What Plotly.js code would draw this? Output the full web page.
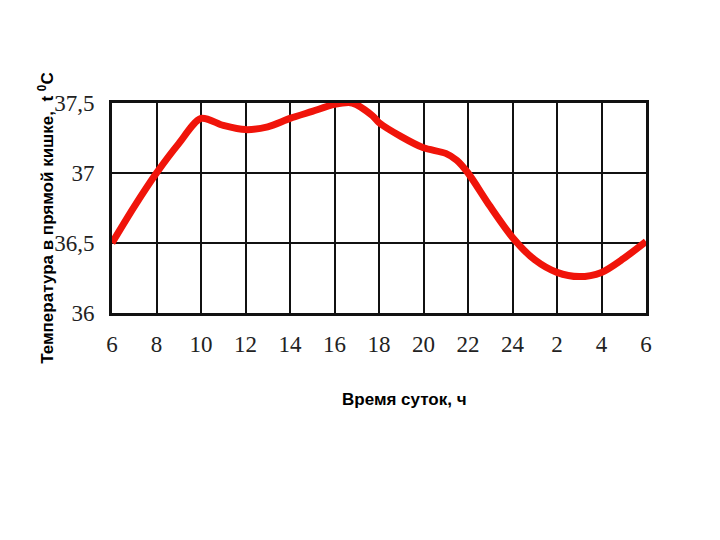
<!DOCTYPE html>
<html><head><meta charset="utf-8">
<script src="https://cdn.plot.ly/plotly-3.0.1.min.js"></script>
<style>html,body{margin:0;padding:0;background:#fff}</style>
</head><body><div id="chart" style="width:720px;height:540px"></div>
<script>
// Hours from 6:00 (6..30, where 24+ means next day)
const hours = [6, 7, 8, 9, 10, 11, 12, 13, 14, 15, 16, 16.8, 17.7, 18, 19, 20, 21, 21.5, 22, 23, 24, 25, 26, 27, 28, 29, 30];
const temps = [36.5, 36.76, 37.0, 37.21, 37.39, 37.34, 37.31, 37.33, 37.39, 37.44, 37.49, 37.5, 37.41, 37.36, 37.26, 37.18, 37.14, 37.09, 37.0, 36.76, 36.54, 36.38, 36.29, 36.26, 36.29, 36.39, 36.51];
const xTickVals = [6, 8, 10, 12, 14, 16, 18, 20, 22, 24, 26, 28, 30];
const xTickText = ['6', '8', '10', '12', '14', '16', '18', '20', '22', '24', '2', '4', '6'];
const yTickVals = [36, 36.5, 37, 37.5];
const yTickText = ['36', '36,5', '37', '37,5'];
const yTitle = 'Температура в прямой кишке,  t <sup>0</sup>C';
const xTitle = 'Время суток, ч';

const trace = {
  x: hours, y: temps, mode: 'lines', type: 'scatter',
  line: {color: '#f0140a', width: 7, shape: 'spline', smoothing: 0.8},
  hoverinfo: 'skip'
};
const tickFont = {family: 'Liberation Serif, serif', size: 23, color: '#222'};
const titleFont = {family: 'Liberation Sans, Arial, sans-serif', size: 17, color: '#000', weight: 'bold'};
const layout = {
  width: 720, height: 540,
  margin: {l: 112, r: 74, t: 103, b: 227},
  paper_bgcolor: '#fff', plot_bgcolor: '#fff',
  showlegend: false,
  xaxis: {
    range: [6, 30], tickvals: xTickVals, ticktext: xTickText,
    showgrid: true, gridcolor: '#111', gridwidth: 2,
    showline: true, linecolor: '#111', linewidth: 3, mirror: true,
    ticks: '', ticklabelstandoff: 8, tickfont: tickFont, zeroline: false
  },
  yaxis: {
    range: [36, 37.5], tickvals: yTickVals, ticktext: yTickText,
    showgrid: true, gridcolor: '#111', gridwidth: 2,
    showline: true, linecolor: '#111', linewidth: 3, mirror: true,
    ticks: '', ticklabelstandoff: 10, tickfont: tickFont, zeroline: false
  },
  annotations: [
    {text: yTitle, xref: 'paper', yref: 'paper', x: -0.125, y: 0.45, xanchor: 'center', yanchor: 'middle',
     textangle: -90, showarrow: false, font: titleFont},
    {text: xTitle, xref: 'paper', yref: 'paper', x: 0.548, y: -0.414, xanchor: 'center', yanchor: 'middle',
     showarrow: false, font: titleFont}
  ]
};
Plotly.newPlot('chart', [trace], layout, {displayModeBar: false, staticPlot: true});
</script></body></html>
